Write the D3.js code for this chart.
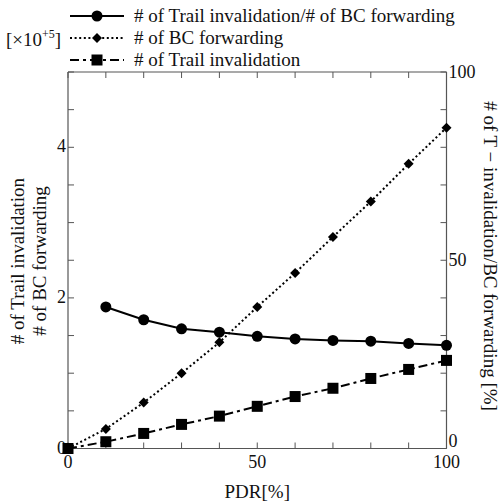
<!DOCTYPE html>
<html>
<head>
<meta charset="utf-8">
<script src="https://cdn.jsdelivr.net/npm/d3@7"></script>
<style>
  body { margin: 0; background: #fff; }
  svg { display: block; font-family: "Liberation Serif", "Times New Roman", serif; }
</style>
</head>
<body>
<svg id="chart" width="502" height="503"></svg>
<script>
// ---- data ----
const pdr = [0, 10, 20, 30, 40, 50, 60, 70, 80, 90, 100];
const ratioX = [10, 20, 30, 40, 50, 60, 70, 80, 90, 100];
const ratioPct = [37.6, 34.2, 31.8, 30.9, 29.8, 29.1, 28.7, 28.5, 27.9, 27.4];
const bcForwarding = [0, 0.26, 0.61, 1.00, 1.41, 1.88, 2.33, 2.81, 3.28, 3.78, 4.26];
const trailInvalidation = [0, 0.09, 0.20, 0.32, 0.43, 0.56, 0.69, 0.80, 0.93, 1.05, 1.17];
const xTicks = [0, 50, 100];
const yLeftTicks = [0, 2, 4];
const yRightTicks = [0, 50, 100];
const legendLabels = ["# of Trail invalidation/# of BC forwarding", "# of BC forwarding", "# of Trail invalidation"];

// ---- layout ----
const svg = d3.select("#chart");
const L = 68, R = 446.5, T = 72, B = 448.5;
const x = d3.scaleLinear().domain([0, 100]).range([L, R]);
const yL = d3.scaleLinear().domain([0, 5]).range([B, T]);
const yR = d3.scaleLinear().domain([0, 100]).range([B, T]);
const axisColor = "#555";
const fs = 19, tfs = 18;

// frame lines
const g = svg.append("g");
[[L, T, L, B], [R, T, R, B], [L, B, R, B], [L, T, R, T]].forEach(d => {
  g.append("line").attr("x1", d[0]).attr("y1", d[1]).attr("x2", d[2]).attr("y2", d[3])
    .attr("stroke", axisColor).attr("stroke-width", 1.2);
});

// inward ticks
const tickLen = 6;
d3.range(0, 101, 10).forEach(v => {
  g.append("line").attr("x1", x(v)).attr("x2", x(v)).attr("y1", B).attr("y2", B - tickLen).attr("stroke", axisColor);
  g.append("line").attr("x1", x(v)).attr("x2", x(v)).attr("y1", T).attr("y2", T + tickLen).attr("stroke", axisColor);
});
d3.range(0, 5.01, 0.5).forEach(v => {
  g.append("line").attr("x1", L).attr("x2", L + tickLen).attr("y1", yL(v)).attr("y2", yL(v)).attr("stroke", axisColor);
});
d3.range(0, 101, 10).forEach(v => {
  g.append("line").attr("x1", R).attr("x2", R - tickLen).attr("y1", yR(v)).attr("y2", yR(v)).attr("stroke", axisColor);
});

// tick labels
xTicks.forEach(v => {
  svg.append("text").attr("x", x(v)).attr("y", B + 19).attr("text-anchor", "middle")
    .attr("font-size", tfs).attr("fill", "#111").text(v);
});
yLeftTicks.forEach(v => {
  svg.append("text").attr("x", L - 2).attr("y", yL(v) + 5).attr("text-anchor", "end")
    .attr("font-size", tfs).attr("fill", "#111").text(v);
});
yRightTicks.forEach(v => {
  svg.append("text").attr("x", R + 2).attr("y", yR(v) + (v === 0 ? -2 : 6)).attr("text-anchor", "start")
    .attr("font-size", tfs).attr("fill", "#111").text(v);
});

// axis titles
svg.append("text").attr("x", (L + R) / 2).attr("y", 498).attr("text-anchor", "middle")
  .attr("font-size", fs).attr("fill", "#111").text("PDR[%]");
const lt = svg.append("text").attr("transform", "translate(0,261) rotate(-90)")
  .attr("text-anchor", "middle").attr("font-size", fs).attr("fill", "#111");
lt.append("tspan").attr("x", 0).attr("y", 24).text("# of Trail invalidation");
lt.append("tspan").attr("x", 0).attr("y", 46).text("# of BC forwarding");
svg.append("text").attr("transform", "translate(484,256) rotate(90)")
  .attr("text-anchor", "middle").attr("font-size", fs).attr("fill", "#111")
  .text("# of T \u2212 invalidation/BC forwarding [%]");

// exponent label
const ex = svg.append("text").attr("x", 6).attr("y", 46).attr("font-size", fs).attr("fill", "#111");
ex.append("tspan").text("[\u00d710");
ex.append("tspan").attr("dy", -8).attr("font-size", 12).text("+5");
ex.append("tspan").attr("dy", 8).text("]");

// ---- series ----
const styles = [
  { dash: null, marker: "circle" },
  { dash: "2,2.6", marker: "diamond" },
  { dash: "9,4,3,4", marker: "square" }
];
function drawMarker(sel, type, cx, cy) {
  if (type === "circle") {
    sel.append("circle").attr("cx", cx).attr("cy", cy).attr("r", 5.5).attr("fill", "#000");
  } else if (type === "square") {
    sel.append("rect").attr("x", cx - 5.5).attr("y", cy - 5.5).attr("width", 11).attr("height", 11).attr("fill", "#000");
  } else {
    const s = 5;
    sel.append("path").attr("d", `M${cx},${cy - s}L${cx + s},${cy}L${cx},${cy + s}L${cx - s},${cy}Z`).attr("fill", "#000");
  }
}

const series = [
  { xs: ratioX, ys: ratioPct, scale: yR, st: styles[0] },
  { xs: pdr, ys: bcForwarding, scale: yL, st: styles[1] },
  { xs: pdr, ys: trailInvalidation, scale: yL, st: styles[2] }
];
const sg = svg.append("g");
series.forEach(s => {
  const pts = s.xs.map((v, i) => [x(v), s.scale(s.ys[i])]);
  sg.append("path").attr("d", d3.line()(pts)).attr("fill", "none").attr("stroke", "#000")
    .attr("stroke-width", 2).attr("stroke-dasharray", s.st.dash);
  pts.forEach(p => drawMarker(sg, s.st.marker, p[0], p[1]));
});

// ---- legend ----
const legY = [16, 38, 60];
legendLabels.forEach((lab, i) => {
  const y = legY[i];
  svg.append("line").attr("x1", 70).attr("x2", 124).attr("y1", y).attr("y2", y)
    .attr("stroke", "#000").attr("stroke-width", 2).attr("stroke-dasharray", styles[i].dash);
  drawMarker(svg, styles[i].marker, 97, y);
  svg.append("text").attr("x", 134).attr("y", y + 6).attr("font-size", fs).attr("fill", "#111").text(lab);
});
</script>
</body>
</html>
